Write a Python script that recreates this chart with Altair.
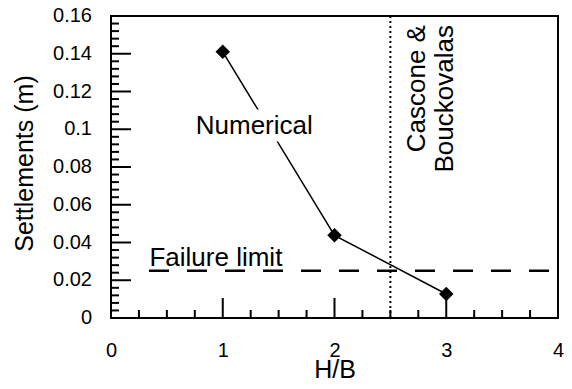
import altair as alt
import pandas as pd

# ---- data ----
hb = [1, 2, 3]
settlements = [0.141, 0.0438, 0.0127]
failure_limit = 0.025
cb_limit = 2.5

x_label_values = [0, 1, 2, 3, 4]
y_label_values = [0, 0.02, 0.04, 0.06, 0.08, 0.1, 0.12, 0.14, 0.16]
x_major_ticks = [1, 2, 3]
x_minor_ticks = [0.25, 0.5, 0.75, 1.25, 1.5, 1.75, 2.25, 2.5, 2.75, 3.25, 3.5, 3.75]
y_major_ticks = [0.02, 0.04, 0.06, 0.08, 0.1, 0.12, 0.14]
y_minor_ticks = [round(i * 0.004, 3) for i in range(1, 40) if i % 5]

W, H = 447, 302
FONT = "Liberation Sans"

df = pd.DataFrame({"hb": hb, "s": settlements})
xs = alt.Scale(domain=[0, 4], nice=False, zero=False)
ys = alt.Scale(domain=[0, 0.16], nice=False)

x_axis = alt.Axis(values=x_label_values, format="~g", labelFontSize=20, labelPadding=22,
                  labelOverlap=False, labelFlush=False,
                  title="H/B", titleFontSize=25, titleFontWeight="normal",
                  titleX=W / 2, titleY=59, titleBaseline="alphabetic", titleAlign="center")
y_axis = alt.Axis(values=y_label_values, labels=False,
                  title="Settlements (m)", titleFontSize=25, titleFontWeight="normal",
                  titleX=-79, titleY=147, titleAngle=270, titleBaseline="alphabetic",
                  titleAlign="center")

line = alt.Chart(df).mark_line(color="black", strokeWidth=1.5).encode(
    x=alt.X("hb:Q", scale=xs, axis=x_axis),
    y=alt.Y("s:Q", scale=ys, axis=y_axis),
)
pts = alt.Chart(df).mark_point(shape="diamond", filled=True, size=210, color="black", opacity=1).encode(
    x=alt.X("hb:Q", scale=xs, axis=x_axis),
    y=alt.Y("s:Q", scale=ys, axis=y_axis),
)

y_lab = alt.Chart(pd.DataFrame({"v": y_label_values})).mark_text(
    font=FONT, fontSize=20, align="right", baseline="middle", color="black").encode(
    y=alt.Y("v:Q", scale=ys, axis=y_axis),
    x=alt.value(-19),
    text=alt.Text("v:Q", format="~g"))

def xticks(vals, length):
    return alt.Chart(pd.DataFrame({"t": vals})).mark_rule(color="black", strokeWidth=2).encode(
        x=alt.X("t:Q", scale=xs, axis=x_axis),
        y=alt.value(H), y2=alt.value(H - length))

def yticks(vals, length):
    return alt.Chart(pd.DataFrame({"t": vals})).mark_rule(color="black", strokeWidth=2).encode(
        y=alt.Y("t:Q", scale=ys, axis=y_axis),
        x=alt.value(0), x2=alt.value(length))

fail_df = pd.DataFrame({"y": [failure_limit]})
fail_rule = alt.Chart(fail_df).mark_rule(color="black", strokeWidth=2.5, strokeDash=[20, 18]).encode(
    x=alt.datum(0.34), x2=alt.datum(3.92),
    y=alt.Y("y:Q", scale=ys, axis=y_axis))

cb_df = pd.DataFrame({"x": [cb_limit]})
cb_rule = alt.Chart(cb_df).mark_rule(color="black", strokeWidth=2, strokeDash=[2, 3]).encode(
    x=alt.X("x:Q", scale=xs, axis=x_axis))

mask = alt.Chart().mark_rect(color="white", opacity=1).encode(
    x=alt.datum(0.74), x2=alt.datum(1.84), y=alt.datum(0.1105), y2=alt.datum(0.0935))

txt_num = alt.Chart().mark_text(text="Numerical", font=FONT, fontSize=26, align="center",
                                baseline="alphabetic", color="black").encode(
    x=alt.datum(1.282), y=alt.datum(0.0977))
txt_fail = alt.Chart().mark_text(text="Failure limit", font=FONT, fontSize=26, align="left",
                                 baseline="alphabetic", color="black").encode(
    x=alt.datum(0.344), y=alt.datum(0.0275))
txt_cb = alt.Chart().mark_text(text=["Cascone &", "Bouckovalas"], font=FONT, fontSize=26,
                               angle=270, align="right", baseline="alphabetic", lineHeight=28,
                               color="black").encode(
    x=alt.datum(2.81), y=alt.datum(0.1552))

chart = alt.layer(
    line,
    xticks(x_major_ticks, 20), xticks(x_minor_ticks, 8),
    yticks(y_major_ticks, 20), yticks(y_minor_ticks, 8),
    cb_rule, fail_rule, mask, pts, y_lab, txt_num, txt_fail, txt_cb,
).properties(
    width=W, height=H,
    autosize=alt.AutoSizeParams(type="none"),
    padding={"left": 103, "top": 8, "right": 6, "bottom": 63},
).configure_view(
    stroke="black", strokeWidth=2
).configure_axis(
    grid=False, domain=False, ticks=False, labelFont=FONT, titleFont=FONT,
    labelColor="black", titleColor="black"
)

chart.save("out.html", embed_options={"renderer": "svg", "actions": False})
